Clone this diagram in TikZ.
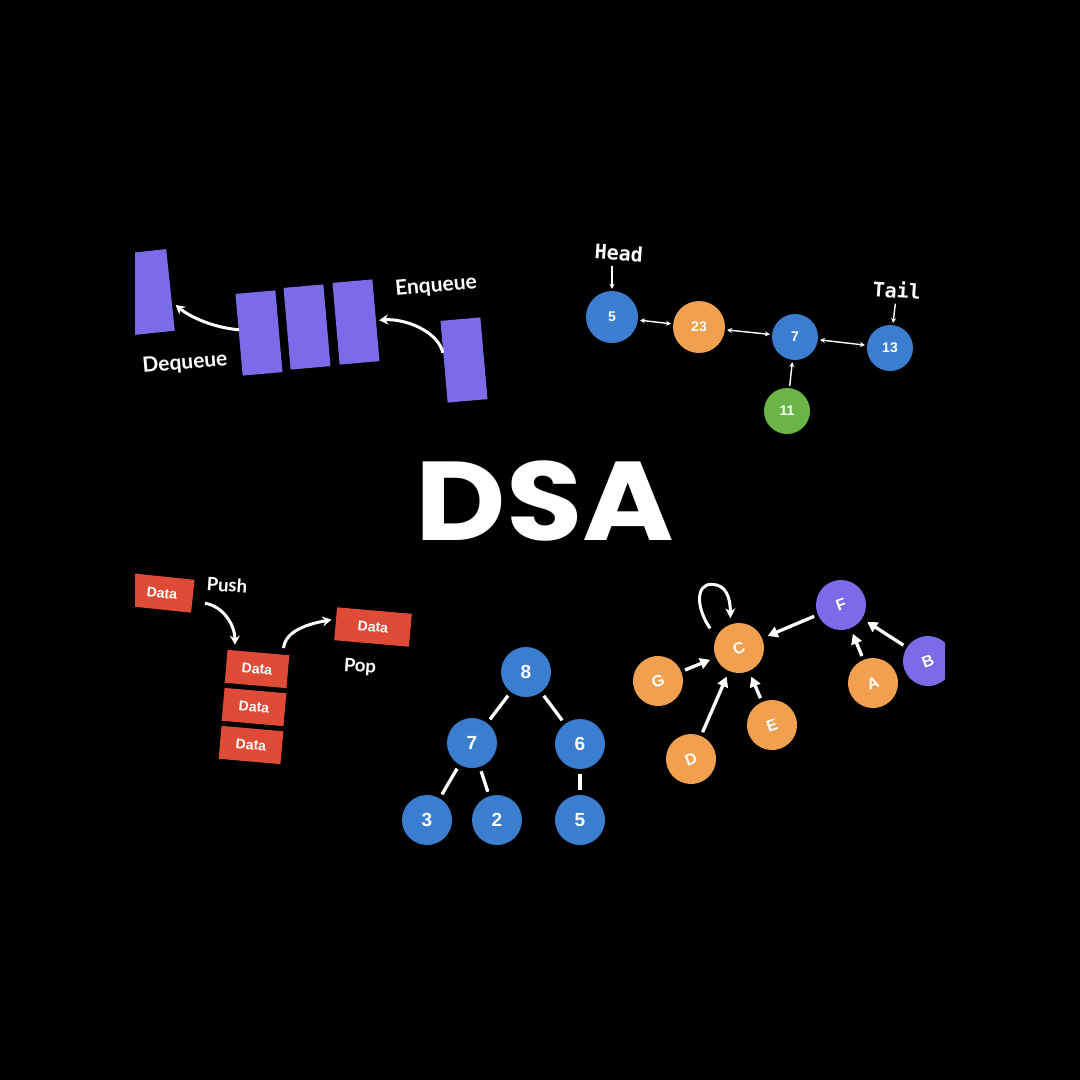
\documentclass[tikz,border=0pt]{standalone}
\usepackage{fontspec}
\setmainfont{Liberation Sans}
\newfontfamily\lblfont{Lato}
\newfontfamily\hdmono{DejaVu Sans Mono}
\newfontfamily\dsafont{Poppins}
\usetikzlibrary{arrows.meta}
\definecolor{qpurple}{RGB}{122,108,232}
\definecolor{nblue}{RGB}{59,125,206}
\definecolor{norange}{RGB}{240,160,78}
\definecolor{ngreen}{RGB}{106,180,72}
\definecolor{sred}{RGB}{222,76,56}
\begin{document}
\begin{tikzpicture}[x=1pt,y=-1pt,
  qbox/.style={fill=qpurple, minimum width=40pt, minimum height=82pt, inner sep=0pt},
  dbox/.style={fill=sred, minimum width=62pt, minimum height=33pt, inner sep=0pt, text=white, font=\bfseries\fontsize{14}{14}\selectfont},
  qlabel/.style={text=white, font=\lblfont\bfseries\fontsize{21}{21}\selectfont},
  slabel/.style={text=white, font=\lblfont\bfseries\fontsize{18.5}{18.5}\selectfont},
  mlabel/.style={text=white, font=\hdmono\bfseries\fontsize{20}{20}\selectfont},
  llnode/.style={circle, inner sep=0pt, text=white, font=\bfseries\fontsize{14}{14}\selectfont},
  tnode/.style={circle, fill=nblue, minimum size=50pt, inner sep=0pt, text=white, font=\bfseries\fontsize{19}{19}\selectfont},
  gnode/.style={circle, minimum size=50pt, inner sep=0pt, text=white, font=\bfseries\fontsize{16}{16}\selectfont, rotate=20},
  bigarrow/.style={white, line width=3pt, -{Stealth[length=9pt,width=10pt]}},
  llarrow/.style={white, line width=1.4pt, shorten <=2pt, shorten >=2pt},
  tedge/.style={white, line width=3.3pt, shorten <=4.5pt, shorten >=4.5pt},
  garrow/.style={white, line width=3.3pt, -{Triangle[length=10pt,width=11pt]}, shorten <=4pt, shorten >=6pt},
  looparrow/.style={white, line width=3pt, -{Stealth[length=10pt,width=10pt]}}
]
\fill[black] (0,0) rectangle (1080,1080);
\useasboundingbox (0,0) rectangle (1080,1080);
\begin{scope}
\clip (135,200) rectangle (945,880);
% ---------- queue ----------
\node[qbox, rotate=6] (q0) at (150.6,292) {};
\node[qbox, rotate=5] (q1) at (259,333) {};
\node[qbox, rotate=5] (q2) at (307,327) {};
\node[qbox, rotate=5] (q3) at (356,322) {};
\node[qbox, rotate=5] (q4) at (464,360) {};
\node[qlabel, rotate=5] (deq) at (185,363) {Dequeue};
\node[qlabel, rotate=5] (enq) at (436,286) {Enqueue};
\draw[bigarrow] ([shift={(0,-5)}]q1.west) .. controls +(-25,-2) and +(14,12) .. ([shift={(5,15)}]q0.east);
\draw[bigarrow] ([shift={(-1,-9)}]q4.west) .. controls +(-5,-22) and +(25,-2) .. ([shift={(3,0)}]q3.east);
% ---------- linked list ----------
\node[llnode, fill=nblue, minimum size=52pt] (n5) at (612,317) {5};
\node[llnode, fill=norange, minimum size=52pt] (n23) at (699,327) {23};
\node[llnode, fill=nblue, minimum size=46pt] (n7) at (795,337) {7};
\node[llnode, fill=nblue, minimum size=46pt] (n13) at (890,348) {13};
\node[llnode, fill=ngreen, minimum size=46pt] (n11) at (787,411) {11};
\node[mlabel, rotate=-4] (head) at (619,253) {Head};
\node[mlabel, rotate=-4] (tail) at (897,290) {Tail};
\draw[llarrow, {Stealth[length=5pt,width=5pt]}-{Stealth[length=5pt,width=5pt]}] (n5) -- (n23);
\draw[llarrow, {Stealth[length=5pt,width=5pt]}-{Stealth[length=5pt,width=5pt]}] (n23) -- (n7);
\draw[llarrow, {Stealth[length=5pt,width=5pt]}-{Stealth[length=5pt,width=5pt]}] (n7) -- (n13);
\draw[llarrow, -{Stealth[length=5pt,width=5pt]}] (n11) -- (n7);
\draw[llarrow, -{Stealth[length=5pt,width=5pt]}] (head.south -| n5.north) -- (n5.north);
\draw[llarrow, -{Stealth[length=5pt,width=5pt]}] (tail) -- (n13);
% ---------- stack ----------
\node[dbox, rotate=-6] (sin) at (162,593) {Data};
\node[dbox, rotate=-5] (s1) at (257,669) {Data};
\node[dbox, rotate=-5] (s2) at (254,707) {Data};
\node[dbox, rotate=-5] (s3) at (251,745) {Data};
\node[dbox, rotate=-5, minimum width=75pt] (sout) at (373,627) {Data};
\node[slabel, rotate=-4] (push) at (227,585) {Push};
\node[slabel, rotate=-4] (pop) at (360,667) {Pop};
\draw[bigarrow] ([shift={(12,7)}]sin.east) .. controls +(18,3) and +(0,-20) .. ([shift={(7.5,-5)}]s1.north west);
\draw[bigarrow] ([shift={(-6,-7)}]s1.north east) .. controls +(2,-18) and +(-22,4) .. ([shift={(-4,-4)}]sout.west);
% ---------- tree ----------
\node[tnode] (t8) at (526,672) {8};
\node[tnode] (t7) at (472,743) {7};
\node[tnode] (t6) at (580,744) {6};
\node[tnode] (t3) at (427,820) {3};
\node[tnode] (t2) at (497,820) {2};
\node[tnode] (t5) at (580,820) {5};
\draw[tedge] (t8) -- (t7);
\draw[tedge] (t8) -- (t6);
\draw[tedge] (t7) -- (t3);
\draw[tedge] (t7) -- (t2);
\draw[tedge] (t6) -- (t5);
% ---------- graph ----------
\node[gnode, fill=norange] (C) at (739,648) {C};
\node[gnode, fill=qpurple] (F) at (841,605) {F};
\node[gnode, fill=norange] (G) at (658,681) {G};
\node[gnode, fill=norange] (A) at (873,683) {A};
\node[gnode, fill=qpurple] (B) at (928,661) {B};
\node[gnode, fill=norange] (D) at (691,759) {D};
\node[gnode, fill=norange] (E) at (772,725) {E};
\draw[garrow] (F) -- (C);
\draw[garrow] (G) -- (C);
\draw[garrow] (D) -- (C);
\draw[garrow] (E) -- (C);
\draw[garrow] (A) -- (F);
\draw[garrow] (B) -- (F);
\draw[looparrow] ([shift={(-7,-7)}]C.130) .. controls +(-14,-20) and +(-16,0) .. ([shift={(-19,-40)}]C.north) .. controls +(14,0) and +(0,-22) .. ([shift={(0,-6)}]C.north);
\end{scope}
% ---------- title ----------
\node[text=white, font=\dsafont\bfseries\fontsize{112}{112}\selectfont, anchor=base, inner sep=0pt, xscale=1.11, transform shape] (dsa) at (545,540) {DSA};
\end{tikzpicture}
\end{document}
